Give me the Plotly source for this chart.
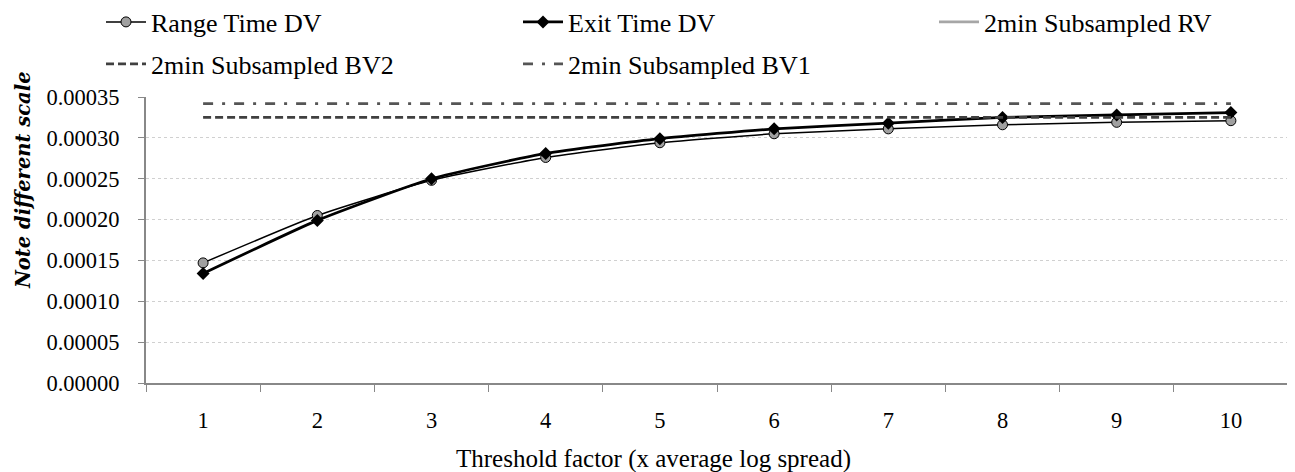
import plotly.graph_objects as go

categories = ["1", "2", "3", "4", "5", "6", "7", "8", "9", "10"]
range_time_dv = [0.000147, 0.000205, 0.000248, 0.000276, 0.000294, 0.000305, 0.000311, 0.000316, 0.000319, 0.000321]
exit_time_dv = [0.000134, 0.000199, 0.000250, 0.000281, 0.000299, 0.000311, 0.000318, 0.000325, 0.000328, 0.000331]
rv_2min = [0.000420] * 10   # off the shown scale (legend only)
bv2_2min = [0.000325] * 10
bv1_2min = [0.000342] * 10
y_ticks = [0.0, 0.00005, 0.0001, 0.00015, 0.0002, 0.00025, 0.0003, 0.00035]

FONT = "Liberation Serif"
fig = go.Figure()

fig.add_trace(go.Scatter(x=categories, y=range_time_dv, name="Range Time DV", mode="lines+markers",
                         line=dict(color="black", width=1.5, shape="spline", smoothing=0.5),
                         marker=dict(symbol="circle", size=10, color="#a0a0a0", line=dict(color="black", width=1)),
                         legend="legend", showlegend=True))
fig.add_trace(go.Scatter(x=categories, y=exit_time_dv, name="Exit Time DV", mode="lines+markers",
                         line=dict(color="black", width=2.75, shape="spline", smoothing=0.5),
                         marker=dict(symbol="diamond", size=10, color="black"),
                         legend="legend2", showlegend=True))
fig.add_trace(go.Scatter(x=categories, y=rv_2min, name="2min Subsampled RV", mode="lines",
                         line=dict(color="#a6a6a6", width=2.75), legend="legend3", showlegend=True))
fig.add_trace(go.Scatter(x=categories, y=bv2_2min, name="2min Subsampled BV2", mode="lines",
                         line=dict(color="#404040", width=2.75, dash="8px,4px"), legend="legend4", showlegend=True))
fig.add_trace(go.Scatter(x=categories, y=bv1_2min, name="2min Subsampled BV1", mode="lines",
                         line=dict(color="#555555", width=2.75, dash="10px,9px,3px,9px"), legend="legend5", showlegend=True))

# page body has an 8px margin, so figure coordinates = page coordinates - 8
OFF = 8
W, H = 1295 - OFF, 472 - OFF
L = 146 - OFF; T = 97 - OFF
R = W - (1288 - OFF); B = H - (383 - OFF)
pw = W - L - R; ph = H - T - B

def px(x):
    return (x - OFF - L) / pw

def py(y):
    return (H - B - (y - OFF)) / ph

leg_common = dict(font=dict(family=FONT, size=26, color="black"), bgcolor="rgba(0,0,0,0)",
                  itemwidth=40, xanchor="left", yanchor="middle", visible=True,
                  borderwidth=0)

fig.update_layout(
    width=W, height=H,
    margin=dict(l=L, r=R, t=T, b=B, autoexpand=False),
    paper_bgcolor="white", plot_bgcolor="white",
    showlegend=True,
    font=dict(family=FONT, size=22, color="black"),
    legend=dict(x=px(101), y=py(22), **leg_common),
    legend2=dict(x=px(518), y=py(22), **leg_common),
    legend3=dict(x=px(934), y=py(22), **leg_common),
    legend4=dict(x=px(101), y=py(64), **leg_common),
    legend5=dict(x=px(518), y=py(64), **leg_common),
    xaxis=dict(type="category", range=[-0.5, 9.5], showgrid=False, showline=True, linecolor="#888888",
               linewidth=2, ticks="outside", tickson="boundaries", ticklen=7, tickcolor="#888888",
               tickfont=dict(family=FONT, size=22.5), automargin=False, ticklabelstandoff=16),
    yaxis=dict(range=[0, 0.00035], tickvals=y_ticks, tickformat=".5f", showgrid=True,
               gridcolor="#d0d0d0", griddash="dot", gridwidth=1, showline=True, linecolor="#888888",
               linewidth=2, ticks="outside", ticklen=6, tickcolor="#888888", zeroline=False,
               tickfont=dict(family=FONT, size=22.5), automargin=False, ticklabelstandoff=14),
    annotations=[
        dict(text="<b><i>Note different scale</i></b>", xref="paper", yref="paper",
             x=px(23), y=py(180), xanchor="center", yanchor="middle", textangle=-90,
             showarrow=False, font=dict(family="DejaVu Serif", size=19.5, color="black")),
        dict(text="Threshold factor (x average log spread)", xref="paper", yref="paper",
             x=px(653), y=py(459), xanchor="center", yanchor="middle",
             showarrow=False, font=dict(family=FONT, size=25, color="black")),
    ],
)

fig.write_html("out.html")
